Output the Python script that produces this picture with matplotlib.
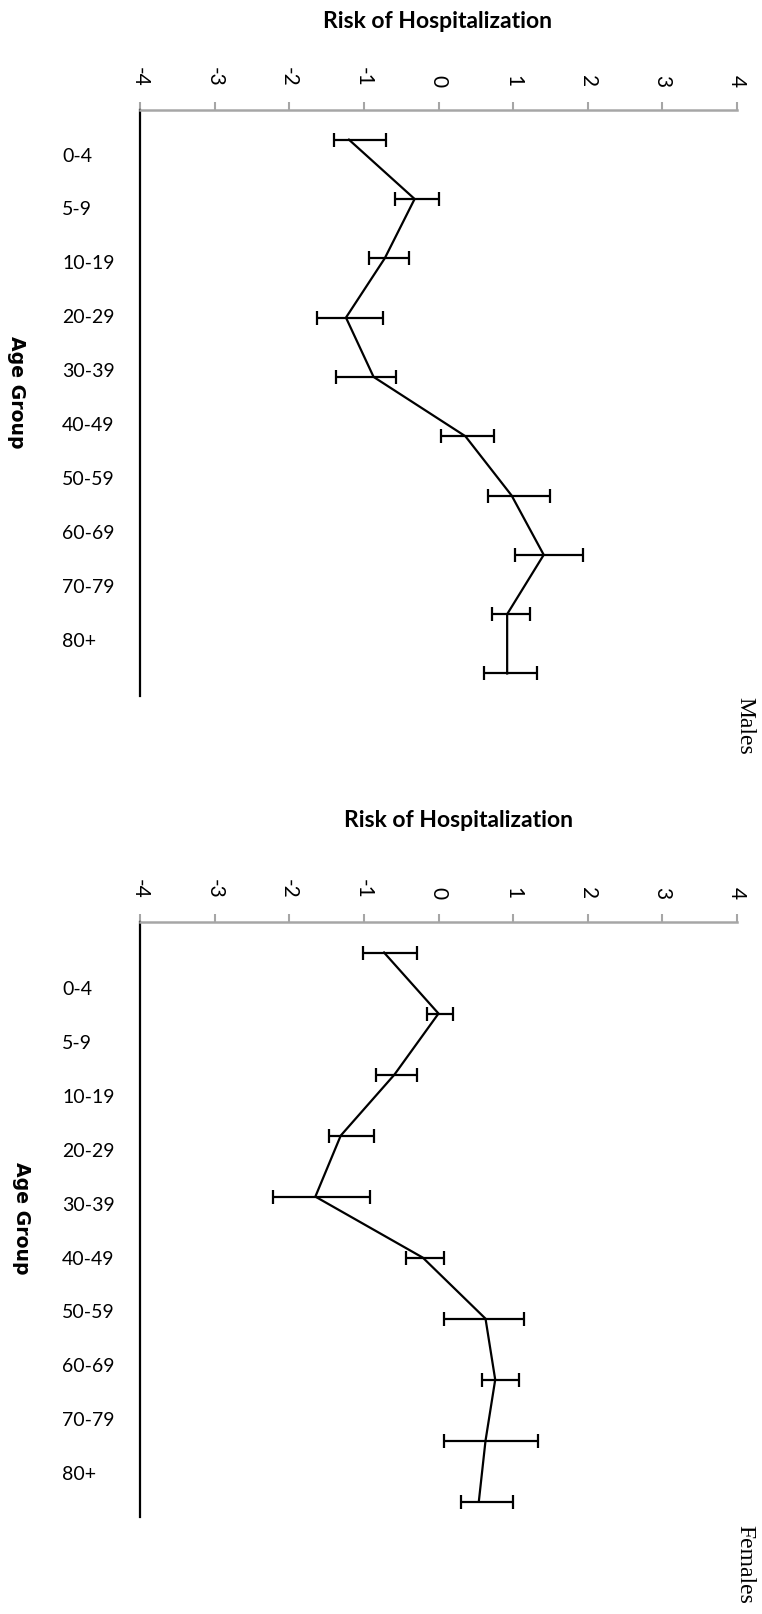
import matplotlib
matplotlib.use("Agg")
import matplotlib.pyplot as plt
import matplotlib.transforms as mtransforms
import numpy as np

ages = ["0-4", "5-9", "10-19", "20-29", "30-39", "40-49", "50-59", "60-69", "70-79", "80+"]
xticks = [-4, -3, -2, -1, 0, 1, 2, 3, 4]

males_risk = [-1.20, -0.32, -0.72, -1.24, -0.87, 0.36, 0.98, 1.41, 0.92, 0.92]
males_low = [-1.40, -0.58, -0.93, -1.63, -1.37, 0.03, 0.67, 1.03, 0.72, 0.61]
males_high = [-0.70, 0.00, -0.39, -0.74, -0.57, 0.75, 1.49, 1.93, 1.22, 1.32]

females_risk = [-0.73, 0.00, -0.59, -1.31, -1.65, -0.21, 0.63, 0.76, 0.63, 0.54]
females_low = [-1.01, -0.16, -0.84, -1.47, -2.22, -0.44, 0.07, 0.58, 0.07, 0.30]
females_high = [-0.29, 0.20, -0.29, -0.87, -0.92, 0.07, 1.14, 1.08, 1.34, 1.00]

W, H = 762, 1614
fig = plt.figure(figsize=(W / 100, H / 100), dpi=100)

def fx(px):
    return px / W

def fy(py):
    return 1 - py / H

panels = [
    dict(risk=males_risk, low=males_low, high=males_high, top=110, bottom=696,
         ylim=(9.38, -0.5), title_x=437, title_y=22, lab_start=0.0786, lab_step=0.092,
         age_x=16.5, age_y=392.5, name="Males", name_y=726),
    dict(risk=females_risk, low=females_low, high=females_high, top=922, bottom=1517,
         ylim=(9.25, -0.5), title_x=458, title_y=821, lab_start=0.114, lab_step=0.0905,
         age_x=21, age_y=1218, name="Females", name_y=1564),
]

left_px, right_px = 140, 737
for p in panels:
    ax = fig.add_axes([fx(left_px), fy(p["bottom"]), fx(right_px - left_px),
                       (p["bottom"] - p["top"]) / H])
    y = np.arange(len(ages))
    risk = np.array(p["risk"])
    xerr = [risk - np.array(p["low"]), np.array(p["high"]) - risk]
    ax.errorbar(risk, y, xerr=xerr, color="black", lw=1.6, elinewidth=1.6,
                capsize=5.2, capthick=1.6)
    ax.set_xlim(-4, 4)
    ax.set_ylim(*p["ylim"])
    ax.set_xticks(xticks)
    ax.set_xticklabels([str(t) for t in xticks], family="Lato")
    ax.xaxis.tick_top()
    ax.tick_params(axis="x", colors="#a6a6a6", labelcolor="black", length=5.8,
                   width=1.5, labelsize=15, labelrotation=-90, pad=10.8)
    ax.set_yticks([])
    for s in ["right", "bottom"]:
        ax.spines[s].set_visible(False)
    ax.spines["top"].set_color("#a6a6a6")
    ax.spines["top"].set_linewidth(1.8)
    ax.spines["left"].set_color("black")
    ax.spines["left"].set_linewidth(1.6)

    trans = mtransforms.blended_transform_factory(fig.transFigure, ax.transAxes)
    for i, lab in enumerate(ages):
        ax.text(fx(62), 1 - (p["lab_start"] + i * p["lab_step"]), lab,
                transform=trans, ha="left", va="center", fontsize=14, family="Lato")

    fig.text(fx(p["title_x"]), fy(p["title_y"]), "Risk of Hospitalization", ha="center",
             va="center", fontsize=16.5, fontweight="bold", family="Lato")
    fig.text(fx(p["age_x"]), fy(p["age_y"]), "Age Group",
             rotation=-90, ha="center", va="center", fontsize=13.6,
             fontweight="bold", family="DejaVu Sans")
    fig.text(fx(745), fy(p["name_y"]), p["name"], rotation=-90, ha="center",
             va="center", fontsize=17, family="Liberation Serif")

fig.savefig("out.png", dpi=100)
